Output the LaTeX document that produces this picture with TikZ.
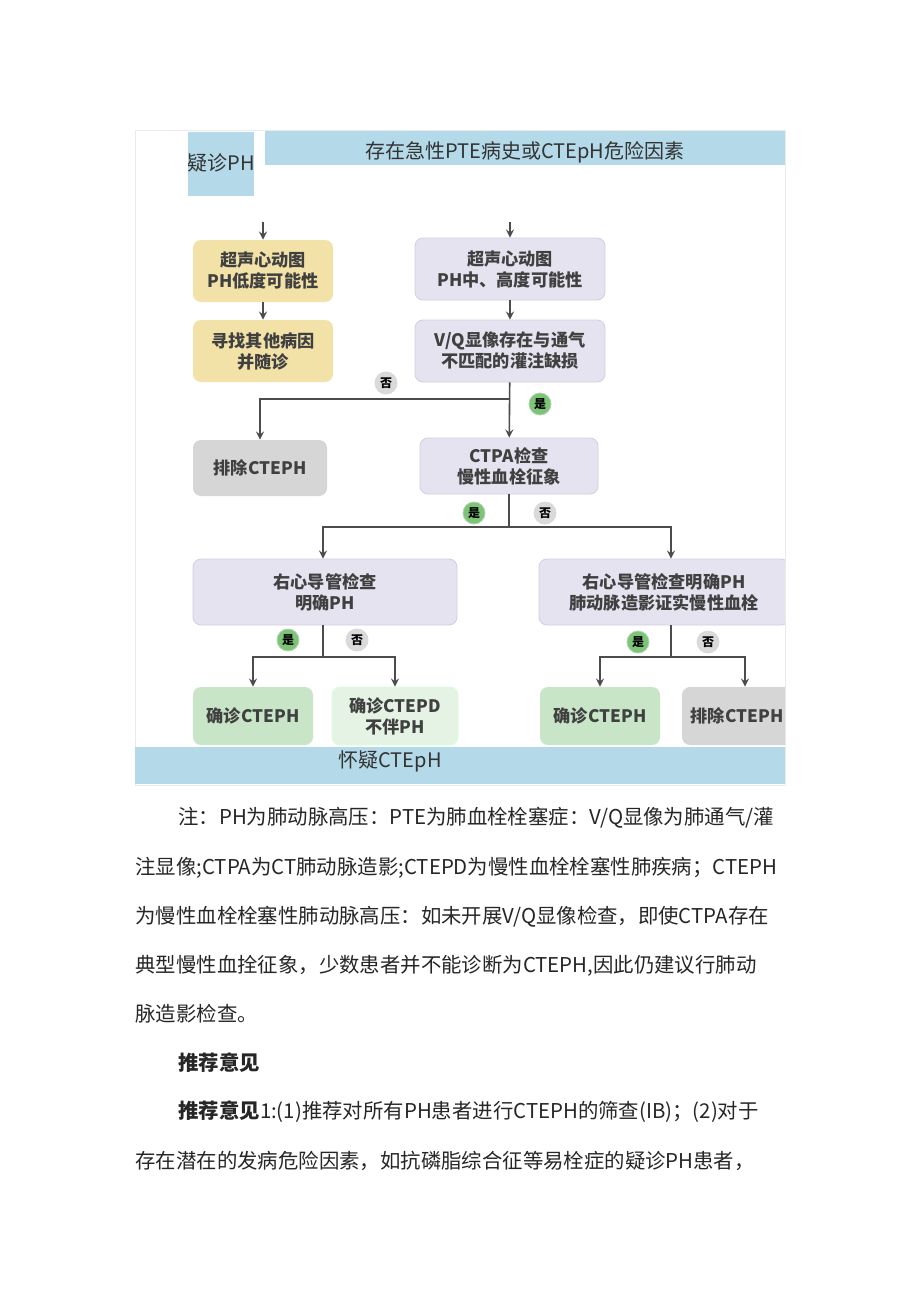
\documentclass[tikz,border=0pt]{standalone}
\usepackage{fontspec}
\setmainfont{Noto Sans CJK SC}
\usetikzlibrary{arrows.meta}
\definecolor{barblue}{RGB}{180,217,232}
\definecolor{ochre}{RGB}{243,226,168}
\definecolor{lavender}{RGB}{230,227,240}
\definecolor{lavline}{RGB}{210,205,225}
\definecolor{greybox}{RGB}{214,214,214}
\definecolor{greenbox}{RGB}{200,229,200}
\definecolor{palegreen}{RGB}{228,243,228}
\definecolor{yesgreen}{RGB}{124,197,118}
\definecolor{nogrey}{RGB}{218,218,218}
\tikzset{
    box/.style={rectangle, rounded corners=4pt, text centered, align=center, font=\fontsize{8.6}{10.5}\selectfont\bfseries, text=black!75},
    flow/.style={->, thick, >=stealth, draw=black!70},
    link/.style={thick, draw=black!70},
    yes/.style={circle, fill=yesgreen, draw=green!40!black!30, inner sep=1pt, minimum size=11pt, font=\fontsize{6}{6}\selectfont\bfseries},
    no/.style={circle, fill=nogrey, draw=black!15, inner sep=1pt, minimum size=11pt, font=\fontsize{6}{6}\selectfont\bfseries},
    bodyline/.style={anchor=west, inner sep=0pt, font=\fontsize{10.2}{12}\selectfont, text=black!85}
}
\begin{document}
\begin{tikzpicture}[x=0.5pt, y=-0.5pt]
    \useasboundingbox (0,0) rectangle (920,1301);
    \fill[white] (0,0) rectangle (920,1301);
    % Frame and header bars
    \draw[black!8] (135,130) rectangle (785,785);
    \fill[barblue] (265,131) rectangle (785,165);
    \node[font=\fontsize{10}{12}\selectfont, text=black!80] (head) at (525,152) {存在急性PTE病史或CTEpH危险因素};
    \fill[barblue] (188,132) rectangle (254,196);
    \node[font=\fontsize{10}{12}\selectfont, text=black!80] (susp) at (221,163) {疑诊PH};
    \fill[barblue] (135,747) rectangle (785,784);
    \node[font=\fontsize{10}{12}\selectfont, text=black!80] (foot) at (390,761) {怀疑CTEpH};

    \begin{scope}
    \clip (135,220) rectangle (785,747);
    % Left column
    \node[box, fill=ochre, minimum width=70pt, minimum height=31pt] (echoL) at (263,271) {超声心动图\\PH低度可能性};
    \node[box, fill=ochre, minimum width=70pt, minimum height=31pt] (otherL) at (263,351) {寻找其他病因\\并随诊};
    % Right column
    \node[box, fill=lavender, draw=lavline, minimum width=95pt, minimum height=31pt] (echoR) at (510,269) {超声心动图\\PH中、高度可能性};
    \node[box, fill=lavender, draw=lavline, minimum width=95pt, minimum height=31pt] (vq) at (510,351) {V/Q显像存在与通气\\不匹配的灌注缺损};
    \node[box, fill=greybox, minimum width=67pt, minimum height=28pt] (excl1) at (260,468) {排除CTEPH};
    \node[box, fill=lavender, draw=lavline, minimum width=89pt, minimum height=28pt] (ctpa) at (509,466) {CTPA检查\\慢性血栓征象};
    \node[box, fill=lavender, draw=lavline, minimum width=132pt, minimum height=33pt] (rhc1) at (325,592) {右心导管检查\\明确PH};
    \node[box, fill=lavender, draw=lavline, minimum width=125pt, minimum height=33pt] (rhc2) at (664,592) {右心导管检查明确PH\\肺动脉造影证实慢性血栓};
    \node[box, fill=greenbox, minimum width=60pt, minimum height=29pt] (conf1) at (253,716) {确诊CTEPH};
    \node[box, fill=palegreen, draw=green!15, minimum width=63pt, minimum height=29pt] (ctepd) at (395,716) {确诊CTEPD\\不伴PH};
    \node[box, fill=greenbox, minimum width=60pt, minimum height=29pt] (conf2) at (600,716) {确诊CTEPH};
    \node[box, fill=greybox, minimum width=55pt, minimum height=29pt] (excl2) at (737,716) {排除CTEPH};
    \coordinate (inL) at (263,222);
    \coordinate (inR) at (510,222);
    \coordinate (j1) at (510,399);
    \coordinate (j2) at (509,527);
    \coordinate (j3) at (323,657);
    \coordinate (j4) at (671,657);
    % Connectors
    \draw[flow] (inL) -- (echoL);
    \draw[flow] (inR) -- (echoR);
    \draw[flow] (echoL) -- (otherL);
    \draw[flow] (echoR) -- (vq);
    \draw[flow] (vq) -- (ctpa);
    \draw[flow] (j1) -| (excl1);
    \draw[link] (ctpa) -- (j2);
    \draw[flow] (j2) -| (rhc1.north -| 323,0);
    \draw[flow] (j2) -| (rhc2.north -| 671,0);
    \draw[link] (rhc1.south -| j3) -- (j3);
    \draw[flow] (j3) -| (conf1);
    \draw[flow] (j3) -| (ctepd);
    \draw[link] (rhc2.south -| j4) -- (j4);
    \draw[flow] (j4) -| (conf2);
    \draw[flow] (j4) -| (excl2.north -| 745,0);
    % Answers
    \node[no] (no1) at (386,383) {否};
    \node[yes] (yes1) at (540,404) {是};
    \node[yes] (yes2) at (474,513) {是};
    \node[no] (no2) at (545,513) {否};
    \node[yes] (yes3) at (288,640) {是};
    \node[no] (no3) at (357,640) {否};
    \node[yes] (yes4) at (638,642) {是};
    \node[no] (no4) at (708,642) {否};
    \end{scope}

    % Notes below the chart
    \node[bodyline] (n1) at (178,818) {注：PH为肺动脉高压：PTE为肺血栓栓塞症：V/Q显像为肺通气/灌};
    \node[bodyline] (n2) at (135,868) {注显像;CTPA为CT肺动脉造影;CTEPD为慢性血栓栓塞性肺疾病；CTEPH};
    \node[bodyline] (n3) at (135,917) {为慢性血栓栓塞性肺动脉高压：如未开展V/Q显像检查，即使CTPA存在};
    \node[bodyline] (n4) at (135,966) {典型慢性血拴征象，少数患者并不能诊断为CTEPH,因此仍建议行肺动};
    \node[bodyline] (n5) at (135,1014) {脉造影检查。};
    \node[bodyline, font=\fontsize{10.2}{12}\selectfont\bfseries] (r0) at (178,1063) {推荐意见};
    \node[bodyline] (r1) at (178,1112) {\textbf{推荐意见}1:(1)推荐对所有PH患者进行CTEPH的筛查(IB)；(2)对于};
    \node[bodyline] (r2) at (135,1161) {存在潜在的发病危险因素，如抗磷脂综合征等易栓症的疑诊PH患者，};
\end{tikzpicture}
\end{document}
